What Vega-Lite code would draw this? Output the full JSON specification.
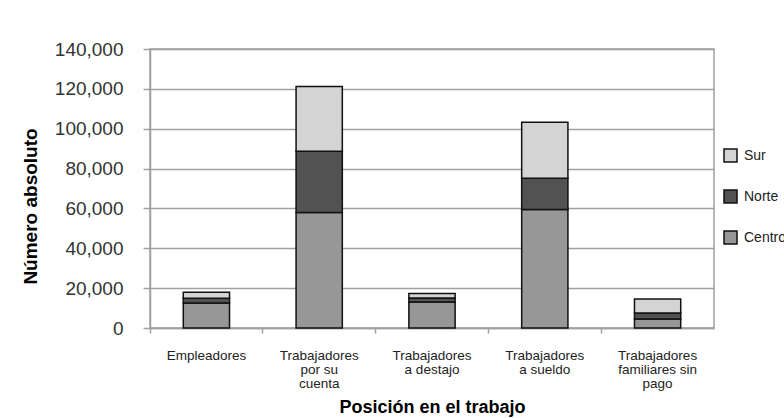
{
  "$schema": "https://vega.github.io/schema/vega-lite/v6.json",
  "autosize": {"type": "none"},
  "width": 564,
  "height": 279,
  "padding": {"left": 150, "top": 49, "right": 70, "bottom": 90},
  "background": "white",
  "config": {
    "font": "Liberation Sans",
    "view": {"stroke": "#a0a0a0", "strokeWidth": 1.5}
  },
  "data": {
    "values": [
      {"posicion": "Empleadores", "region": "Centro", "valor": 12500},
      {"posicion": "Empleadores", "region": "Norte", "valor": 2400},
      {"posicion": "Empleadores", "region": "Sur", "valor": 3000},
      {"posicion": "Trabajadores por su cuenta", "region": "Centro", "valor": 58000},
      {"posicion": "Trabajadores por su cuenta", "region": "Norte", "valor": 30700},
      {"posicion": "Trabajadores por su cuenta", "region": "Sur", "valor": 32500},
      {"posicion": "Trabajadores a destajo", "region": "Centro", "valor": 13000},
      {"posicion": "Trabajadores a destajo", "region": "Norte", "valor": 2000},
      {"posicion": "Trabajadores a destajo", "region": "Sur", "valor": 2300},
      {"posicion": "Trabajadores a sueldo", "region": "Centro", "valor": 59500},
      {"posicion": "Trabajadores a sueldo", "region": "Norte", "valor": 15700},
      {"posicion": "Trabajadores a sueldo", "region": "Sur", "valor": 28100},
      {"posicion": "Trabajadores familiares sin pago", "region": "Centro", "valor": 4500},
      {"posicion": "Trabajadores familiares sin pago", "region": "Norte", "valor": 3000},
      {"posicion": "Trabajadores familiares sin pago", "region": "Sur", "valor": 7000}
    ]
  },
  "mark": {"type": "bar", "width": {"band": 0.41}, "stroke": "#111111", "strokeWidth": 1.5},
  "encoding": {
    "x": {
      "field": "posicion",
      "type": "nominal",
      "sort": null,
      "scale": {"paddingInner": 0, "paddingOuter": 0},
      "axis": {
        "title": "Posición en el trabajo",
        "titleFont": "Liberation Sans",
        "titleFontSize": 18,
        "titleFontWeight": "bold",
        "titleColor": "#000000",
        "titleY": 84,
        "titleBaseline": "alphabetic",
        "labelAngle": 0,
        "labelFontSize": 13.5,
        "labelColor": "#222222",
        "labelLineHeight": 14,
        "labelPadding": 15,
        "labelBaseline": "top",
        "bandPosition": 0,
        "tickSize": 5,
        "tickColor": "#a0a0a0",
        "tickWidth": 1.5,
        "domainColor": "#a0a0a0",
        "domainWidth": 1.5,
        "grid": false,
        "labelExpr": "datum.label == 'Trabajadores por su cuenta' ? ['Trabajadores','por su','cuenta'] : datum.label == 'Trabajadores a destajo' ? ['Trabajadores','a destajo'] : datum.label == 'Trabajadores a sueldo' ? ['Trabajadores','a sueldo'] : datum.label == 'Trabajadores familiares sin pago' ? ['Trabajadores','familiares sin','pago'] : datum.label"
      }
    },
    "y": {
      "field": "valor",
      "type": "quantitative",
      "stack": "zero",
      "scale": {"domain": [0, 140000], "nice": false},
      "axis": {
        "title": "Número absoluto",
        "titleFont": "Liberation Sans",
        "titleFontSize": 19,
        "titleFontWeight": "bold",
        "titleColor": "#000000",
        "titleAngle": 270,
        "titleX": -120,
        "titleY": 157,
        "titleAlign": "center",
        "titleBaseline": "middle",
        "values": [0, 20000, 40000, 60000, 80000, 100000, 120000, 140000],
        "format": ",.0f",
        "labelFontSize": 19,
        "labelColor": "#333333",
        "labelPadding": 20,
        "tickSize": 7,
        "tickColor": "#a0a0a0",
        "tickWidth": 1.5,
        "domainColor": "#a0a0a0",
        "domainWidth": 1.5,
        "grid": true,
        "gridColor": "#a0a0a0",
        "gridWidth": 1.5
      }
    },
    "color": {
      "field": "region",
      "type": "nominal",
      "scale": {"domain": ["Sur", "Norte", "Centro"], "range": ["#d4d4d4", "#525252", "#979797"]},
      "legend": {
        "title": null,
        "orient": "none",
        "legendX": 573,
        "legendY": 99,
        "symbolType": "square",
        "symbolSize": 169,
        "symbolStrokeColor": "#111111",
        "symbolStrokeWidth": 1.5,
        "labelFontSize": 14,
        "labelColor": "#222222",
        "labelOffset": 6,
        "rowPadding": 22,
        "padding": 0
      }
    },
    "order": {"field": "region", "sort": "ascending"}
  }
}
